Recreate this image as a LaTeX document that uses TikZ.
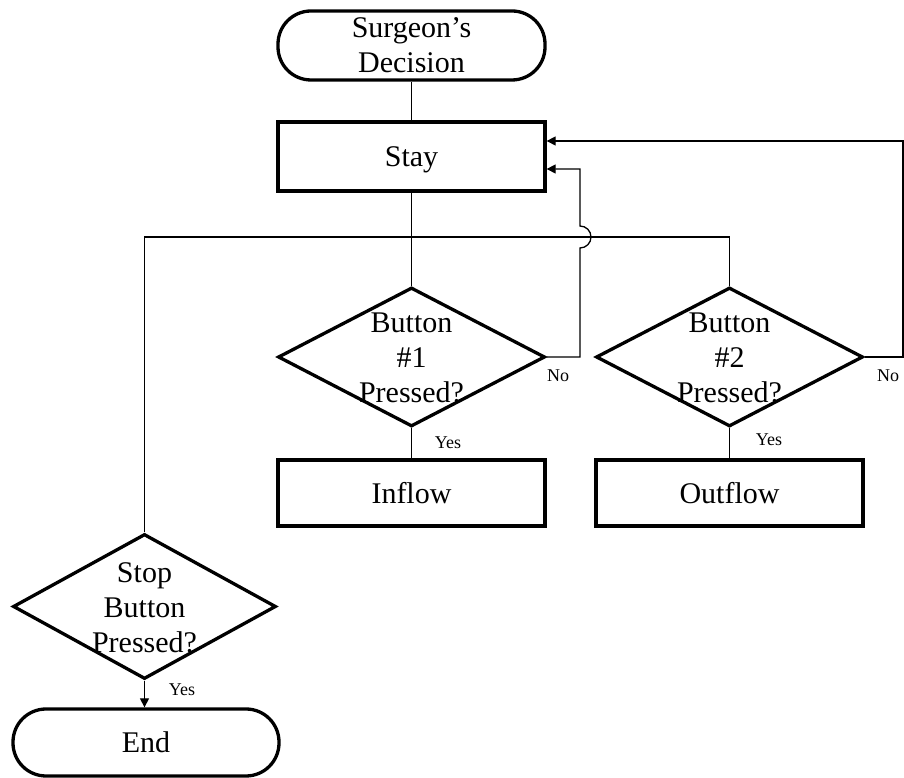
\documentclass[tikz,border=0pt]{standalone}
\usepackage{fontspec}
\setmainfont{Liberation Serif}
\usetikzlibrary{shapes.geometric,arrows.meta,calc}
\begin{document}
\begin{tikzpicture}[x=1pt,y=1pt,
  big/.style={font=\fontsize{30}{35}\selectfont, align=center, inner sep=0},
  small/.style={font=\fontsize{18}{20}\selectfont, inner sep=0},
  term/.style={draw, line width=3.3pt, rectangle, rounded corners=33pt, minimum width=267pt, minimum height=69pt, big},
  proc/.style={draw, line width=3.3pt, rectangle, minimum width=267pt, minimum height=69pt, big, text depth=0pt},
  dec/.style={draw, line width=3.3pt, diamond, inner sep=0},
  conn/.style={line width=1.3pt},
  arr/.style={conn, -{Triangle[length=9pt,width=9pt]}}
]
\useasboundingbox (0,0) rectangle (904,778);
% nodes
\node[term] (start) at (411.5,732.5) {Surgeon’s\\Decision};
\node[proc] (stay) at (411.5,621.5) {Stay};
\node[dec, minimum width=267pt, minimum height=139pt] (b1) at (411.5,421) {};
\node[big] (b1t) at (411.5,420) {Button\\\#1\\Pressed?};
\node[dec, minimum width=267pt, minimum height=139pt] (b2) at (729.5,421) {};
\node[big] (b2t) at (729.5,420) {Button\\\#2\\Pressed?};
\node[proc, minimum height=66pt] (in) at (411.5,285) {Inflow};
\node[proc, minimum height=66pt] (out) at (729.5,285) {Outflow};
\node[dec, minimum width=263pt, minimum height=145pt] (stop) at (144.5,171.5) {};
\node[big] (stopt) at (144.5,170) {Stop\\Button\\Pressed?};
\node[term, minimum width=266pt, minimum height=67pt, text depth=0pt] (end) at (146,35.5) {End};
% coordinates
\coordinate (jl) at (144.5,541);
\coordinate (jr) at (729.5,541);
\coordinate (h1a) at (580,530);
\coordinate (h1b) at (580,609);
\coordinate (s1) at ($(stay.east)+(0,-12.5)$);
\coordinate (r2) at (903,637);
\coordinate (s2) at ($(stay.east)+(0,15.5)$);
% connectors
\draw[conn] (start) -- (stay);
\draw[conn] (stay) -- (b1.north);
\draw[conn] (stop.north) -- (jl) -- (jr) -- (b2.north);
\draw[conn] (b1.south) -- (in.north);
\draw[conn] (b2.south) -- (out.north);
\draw[arr] (stop.south) -- (stop.south |- end.north);
\draw[arr] (b1.east) -| (h1a) arc[start angle=-90,end angle=90,radius=11pt] -- (h1b) -- (s1);
\draw[arr] (b2.east) -| (r2) -- (s2);
% labels
\node[small] (no1) at (558,402) {No};
\node[small] (no2) at (888,402) {No};
\node[small] (yes1) at (448,335) {Yes};
\node[small] (yes2) at (769,338) {Yes};
\node[small] (yes3) at (182,88) {Yes};
\end{tikzpicture}
\end{document}
